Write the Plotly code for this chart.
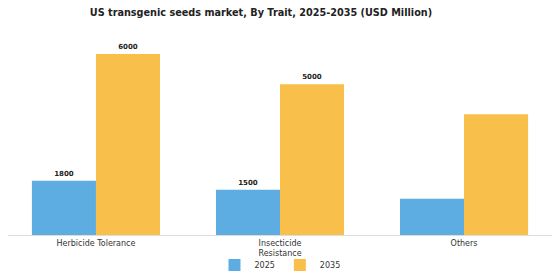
import plotly.graph_objects as go

categories = ["Herbicide Tolerance", "Insecticide<br>Resistance", "Others"]
values_2025 = [1800, 1500, 1200]
values_2035 = [6000, 5000, 4000]
labels_2025 = ["1800", "1500", ""]
labels_2035 = ["6000", "5000", ""]

BLUE = "#5DADE2"
YELLOW = "#F8C04A"
FONT = "DejaVu Sans"

fig = go.Figure()
fig.add_trace(go.Bar(
    x=categories, y=values_2025, name="2025", marker_color=BLUE,
    marker_line_width=0, text=labels_2025, textposition="outside",
    textfont=dict(family=FONT, size=7, color="#222222", weight="bold"),
    cliponaxis=False,
))
fig.add_trace(go.Bar(
    x=categories, y=values_2035, name="2035", marker_color=YELLOW,
    marker_line_width=0, text=labels_2035, textposition="outside",
    textfont=dict(family=FONT, size=7, color="#222222", weight="bold"),
    cliponaxis=False,
))

fig.update_layout(
    width=560, height=280,
    margin=dict(l=8, r=8, t=40, b=45, autoexpand=False),
    paper_bgcolor="white", plot_bgcolor="white",
    barmode="group", bargap=0.304, bargroupgap=0,
    font=dict(family=FONT, size=8, color="#333333"),
    title=dict(
        text="<b>US transgenic seeds market, By Trait, 2025-2035 (USD Million)</b>",
        x=0.466, xref="container", xanchor="center",
        y=0.955, yref="container", yanchor="middle",
        font=dict(family=FONT, size=9.7, color="#222222"),
    ),
    showlegend=True,
    legend=dict(
        orientation="h", x=0.5, xanchor="center",
        y=0.054, yref="container", yanchor="middle",
        font=dict(family=FONT, size=8, color="#333333"),
        bgcolor="rgba(0,0,0,0)",
        itemwidth=30,
    ),
    uniformtext=dict(minsize=7, mode="show"),
)
fig.update_xaxes(
    range=[-0.478, 2.478], showgrid=False, showline=True,
    linecolor="#dddddd", linewidth=1, ticks="", tickfont=dict(size=8, color="#333333"),
)
fig.update_yaxes(
    range=[0, 6463], visible=False, showgrid=False, zeroline=False,
)

fig.write_html("out.html")
